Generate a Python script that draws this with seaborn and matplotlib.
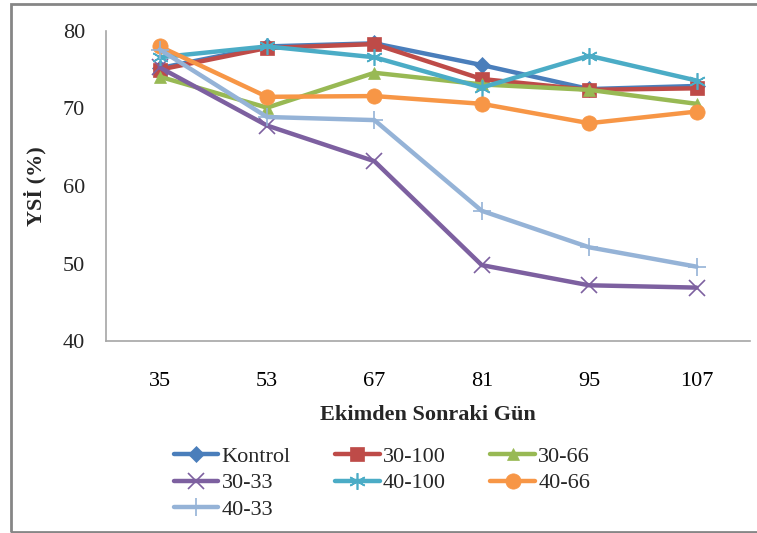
import matplotlib
matplotlib.use("Agg")
import matplotlib.pyplot as plt
import seaborn as sns
import pandas as pd
from matplotlib.patches import Rectangle
from matplotlib.ticker import FixedLocator, NullFormatter

days = ["35", "53", "67", "81", "95", "107"]
series_names = ["Kontrol", "30-100", "30-66", "30-33", "40-100", "40-66", "40-33"]
kontrol = [75.2, 78.0, 78.4, 75.6, 72.5, 72.9]
s30_100 = [75.0, 77.8, 78.3, 73.8, 72.4, 72.6]
s30_66 = [74.1, 70.1, 74.6, 73.1, 72.4, 70.6]
s30_33 = [75.3, 67.8, 63.2, 49.8, 47.2, 46.9]
s40_100 = [76.6, 78.0, 76.6, 72.7, 76.8, 73.6]
s40_66 = [78.0, 71.5, 71.6, 70.6, 68.1, 69.6]
s40_33 = [77.6, 68.9, 68.5, 56.8, 52.1, 49.6]

values = [kontrol, s30_100, s30_66, s30_33, s40_100, s40_66, s40_33]
colors = ["#4A7EBB", "#BE4B48", "#98B954", "#7D60A0", "#4BACC6", "#F79646", "#95B3D7"]
markers = ["D", "s", "^", "x", (6, 2, 0), "o", "+"]
msizes = [8, 10, 9, 11, 12, 11, 13]

rows = []
for name, vals in zip(series_names, values):
    for i, (d, v) in enumerate(zip(days, vals)):
        rows.append({"pos": i, "day": d, "value": v, "series": name})
df = pd.DataFrame(rows)

sns.set_style("white")
plt.rcParams["font.family"] = ["Liberation Serif", "DejaVu Serif"]

fig = plt.figure(figsize=(7.57, 5.33), dpi=100)
ax = fig.add_axes([0.140, 0.360, 0.851, 0.582])

for name, c, m, ms in zip(series_names, colors, markers, msizes):
    sub = df[df["series"] == name]
    sns.lineplot(data=sub, x="pos", y="value", ax=ax, color=c, linewidth=3.2,
                 marker=m, markersize=ms, markeredgewidth=1.2 if m in ("x", "+", (6, 2, 0)) else 0.5,
                 markeredgecolor=c, label=name, legend=False)

ax.set_xlim(-0.5, 5.5)
ax.set_ylim(40, 80)
ax.set_yticks([40, 50, 60, 70, 80])
ax.set_xticks(range(len(days)))
ax.set_xticklabels(days)
ax.xaxis.set_minor_locator(FixedLocator([i - 0.5 for i in range(len(days) + 1)]))
ax.xaxis.set_minor_formatter(NullFormatter())
ax.tick_params(axis="x", which="major", length=0, labelsize=16, pad=22, colors="black")
ax.tick_params(axis="x", which="minor", length=6, width=1, color="#A6A6A6", direction="out")
ax.tick_params(axis="y", length=6, width=1, color="#A6A6A6", labelsize=16, direction="out", pad=9)
for s in ["top", "right"]:
    ax.spines[s].set_visible(False)
for s in ["left", "bottom"]:
    ax.spines[s].set_color("#A6A6A6")
    ax.spines[s].set_linewidth(1.2)

ax.set_xlabel("Ekimden Sonraki Gün", fontsize=16, fontweight="bold", labelpad=10)
ax.set_ylabel("YSİ (%)", fontsize=16, fontweight="bold", labelpad=12)

handles, labels = ax.get_legend_handles_labels()
hmap = dict(zip(labels, handles))
order = ["Kontrol", "30-33", "40-33", "30-100", "40-100", "30-66", "40-66"]
leg = fig.legend([hmap[k] for k in order], order, loc="upper left",
                 bbox_to_anchor=(0.218, 0.180),
                 ncol=3, frameon=False, fontsize=16, handlelength=2.0, handletextpad=0.15,
                 columnspacing=2.0, labelspacing=0.28, borderaxespad=0)

fig.patches.append(Rectangle((10.5 / 757, 1 / 533), 1.2, (529.5 - 1) / 533,
                             transform=fig.transFigure, fill=False,
                             edgecolor="#868686", linewidth=2, zorder=0))

fig.savefig("out.png", dpi=100)
